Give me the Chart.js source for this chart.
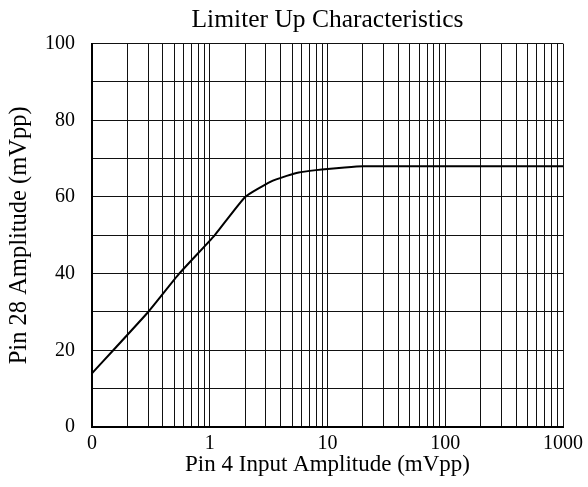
<!DOCTYPE html>
<html>
<head>
<meta charset="utf-8">
<script src="https://cdn.jsdelivr.net/npm/chart.js@4.4.1/dist/chart.umd.min.js"></script>
<style>
  html, body { margin: 0; padding: 0; background: #fff; }
  #wrap { width: 588px; height: 487px; }
</style>
</head>
<body>
<div id="wrap"><canvas id="c" width="588" height="487"></canvas></div>
<script>
// Limiter Up Characteristics — uscita pin 28 vs ingresso pin 4 (asse x logaritmico)
const inputAmp = [0.1, 0.3, 0.55, 1.1, 2, 3.3, 4.5, 5.7, 8, 10, 14, 20, 100, 1000];
const outputAmp = [14, 30, 40, 50, 60, 64, 65.5, 66.4, 67, 67.3, 67.7, 68, 68, 68];

// griglia: decadi + suddivisioni 2..9
const xGrid = [];
for (const d of [0.1, 1, 10, 100]) for (let k = 1; k < 10; k++) xGrid.push(+(d * k).toPrecision(3));
xGrid.push(1000);
const xLabels = { 0.1: '0', 1: '1', 10: '10', 100: '100', 1000: '1000' };
const yLabelStep = 20;

const SERIF = '"Liberation Serif", "Times New Roman", serif';
const INK = '#000';

// titolo centrato sull'area del grafico, non su tutta la tela
const centerTitle = {
  id: 'centerTitle',
  afterLayout(chart) {
    const t = chart.titleBlock;
    if (!t) return;
    t.left = chart.chartArea.left;
    t.right = chart.chartArea.right;
  },
};

new Chart(document.getElementById('c'), {
  type: 'line',
  data: {
    datasets: [{
      data: inputAmp.map((x, i) => ({ x, y: outputAmp[i] })),
      borderColor: INK,
      borderWidth: 2,
      pointRadius: 0,
      tension: 0.15,
      fill: false,
    }],
  },
  options: {
    responsive: false,
    animation: false,
    layout: { padding: { left: 0, right: 23, top: 0, bottom: 0 } },
    scales: {
      x: {
        type: 'logarithmic', min: 0.1, max: 1000,
        afterBuildTicks: (s) => { s.ticks = xGrid.map((v) => ({ value: v })); },
        afterFit: (s) => { s.height = 60; },
        ticks: {
          autoSkip: false, maxRotation: 0, color: INK, padding: 5,
          font: { family: SERIF, size: 20 },
          callback: (v) => xLabels[v] ?? '',
        },
        grid: { color: '#111', lineWidth: 1, drawTicks: false },
        border: { color: INK, width: 2 },
        title: { display: true, text: 'Pin 4 Input Amplitude (mVpp)', color: INK, font: { family: SERIF, size: 23 }, padding: { top: 0, bottom: 8 } },
      },
      y: {
        min: 0, max: 100,
        afterFit: (s) => { s.width = 92; },
        ticks: {
          stepSize: 10, color: INK, padding: 17,
          font: { family: SERIF, size: 20 },
          callback: (v) => (v % yLabelStep === 0 ? v : ''),
        },
        grid: { color: '#111', lineWidth: 1, drawTicks: false },
        border: { color: INK, width: 2 },
        title: { display: true, text: 'Pin 28 Amplitude (mVpp)', color: INK, font: { family: SERIF, size: 24.5 }, padding: { top: 5, bottom: 0 } },
      },
    },
    plugins: {
      legend: { display: false },
      tooltip: { enabled: false },
      title: { display: true, text: 'Limiter Up Characteristics', color: INK, font: { family: SERIF, size: 25.5, weight: 'normal' }, padding: { top: 5, bottom: 8 } },
    },
  },
  plugins: [centerTitle],
});
</script>
</body>
</html>
